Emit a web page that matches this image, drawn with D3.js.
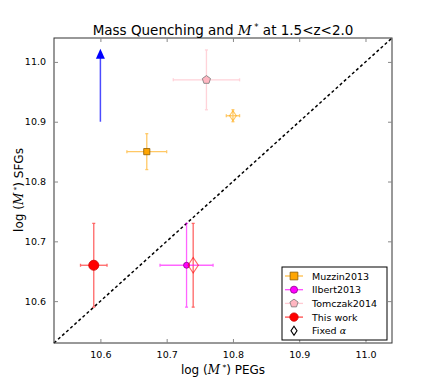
<!DOCTYPE html>
<html>
<head>
<meta charset="utf-8">
<script src="https://cdn.jsdelivr.net/npm/d3@7"></script>
<style>
  body { margin: 0; background: #fff; }
  text { font-family: "DejaVu Sans", sans-serif; fill: #000; }
</style>
</head>
<body>
<svg id="chart" width="436" height="382"></svg>
<script>
// data
const names = ["Muzzin2013", "Ilbert2013", "Tomczak2014", "This work"];
const xPEG = [10.67, 10.73, 10.76, 10.59];
const ySFG = [10.85, 10.66, 10.97, 10.66];
const xErr = [0.03, 0.04, 0.05, 0.02];
const yErr = [0.03, 0.07, 0.05, 0.07];
const colors = ["#ffa500", "#ff00ff", "#ffb6c1", "#ff0000"];

// fixed alpha points
const fixedX = [10.80, 10.74];
const fixedY = [10.91, 10.66];
const fixedXErr = [0.01, 0.0];
const fixedYErr = [0.01, 0.07];
const fixedColors = ["#ffa500", "#ff0000"];

// lower limit arrow
const arrowX = 10.6, arrowFrom = 10.9, arrowTo = 11.022;

const ticks = [10.6, 10.7, 10.8, 10.9, 11.0];
const domain = [10.53, 11.04];

const svg = d3.select("#chart");
const mLeft = 54, mRight = 392, mTop = 38, mBottom = 343;

const x = d3.scaleLinear().domain(domain).range([mLeft, mRight]);
const y = d3.scaleLinear().domain(domain).range([mBottom, mTop]);

// one-to-one line
svg.append("line")
    .attr("x1", x(domain[0])).attr("y1", y(domain[0]))
    .attr("x2", x(domain[1])).attr("y2", y(domain[1]))
    .attr("stroke", "#000").attr("stroke-width", 1.5)
    .attr("stroke-dasharray", "3,2.5");

// blue arrow
svg.append("line")
    .attr("x1", x(arrowX)).attr("x2", x(arrowX))
    .attr("y1", y(arrowFrom)).attr("y2", y(arrowTo) + 9)
    .attr("stroke", "#0000ff").attr("stroke-width", 1.5).attr("opacity", 0.7);
svg.append("path")
    .attr("d", `M${x(arrowX)},${y(arrowTo)} l-4.5,10 l9,0 z`)
    .attr("fill", "#0000ff");

function errorBars(cx, cy, ex, ey, col, op) {
    const g = svg.append("g").attr("stroke", col).attr("stroke-width", 1.3).attr("opacity", op);
    if (ex > 0) {
        g.append("line").attr("x1", x(cx - ex)).attr("x2", x(cx + ex)).attr("y1", y(cy)).attr("y2", y(cy));
        [cx - ex, cx + ex].forEach(v => g.append("line").attr("x1", x(v)).attr("x2", x(v)).attr("y1", y(cy) - 1.5).attr("y2", y(cy) + 1.5));
    }
    if (ey > 0) {
        g.append("line").attr("x1", x(cx)).attr("x2", x(cx)).attr("y1", y(cy - ey)).attr("y2", y(cy + ey));
        [cy - ey, cy + ey].forEach(v => g.append("line").attr("y1", y(v)).attr("y2", y(v)).attr("x1", x(cx) - 1.5).attr("x2", x(cx) + 1.5));
    }
}

fixedX.forEach((v, i) => errorBars(v, fixedY[i], fixedXErr[i], fixedYErr[i], fixedColors[i], 0.6));
names.forEach((n, i) => errorBars(xPEG[i], ySFG[i], xErr[i], yErr[i], colors[i], 0.6));

const sym = [d3.symbolSquare, d3.symbolCircle, null, d3.symbolCircle];
const sizes = [38, 28, 0, 80];
const legendSizes = [60, 40, 0, 55];
const edges = ["#8a5a00", "#8a008a", "#777", "#cc0000"];

function pentagon(r) {
    let pts = [];
    for (let k = 0; k < 5; k++) {
        const a = -Math.PI / 2 + k * 2 * Math.PI / 5;
        pts.push([r * Math.cos(a), r * Math.sin(a)]);
    }
    return "M" + pts.map(p => p.join(",")).join("L") + "Z";
}

function marker(g, i, cx, cy, sz) {
    const d = i == 2 ? pentagon(4.3) : d3.symbol(sym[i], sz[i])();
    g.append("path").attr("d", d)
        .attr("transform", `translate(${cx},${cy})`)
        .attr("fill", colors[i]).attr("stroke", edges[i]).attr("stroke-width", 0.8);
}

names.forEach((n, i) => marker(svg, i, x(xPEG[i]), y(ySFG[i]), sizes));

// fixed alpha: open diamonds
fixedX.forEach((v, i) => {
    svg.append("path").attr("d", d3.symbol(d3.symbolDiamond, i == 0 ? 30 : 70)())
        .attr("transform", `translate(${x(v)},${y(fixedY[i])}) scale(1.15,1)`)
        .attr("fill", "none").attr("stroke", fixedColors[i]).attr("stroke-width", 1).attr("opacity", 0.6);
});

// frame
svg.append("rect").attr("x", mLeft).attr("y", mTop).attr("width", mRight - mLeft).attr("height", mBottom - mTop)
    .attr("fill", "none").attr("stroke", "#333").attr("stroke-width", 1);

// axes with inward ticks
const xb = svg.append("g").attr("transform", `translate(0,${mBottom})`)
    .call(d3.axisBottom(x).tickValues(ticks).tickSizeInner(-4).tickSizeOuter(0).tickPadding(8).tickFormat(d3.format(".1f")));
const xt = svg.append("g").attr("transform", `translate(0,${mTop})`)
    .call(d3.axisTop(x).tickValues(ticks).tickSizeInner(-4).tickSizeOuter(0).tickFormat(""));
const yl = svg.append("g").attr("transform", `translate(${mLeft},0)`)
    .call(d3.axisLeft(y).tickValues(ticks).tickSizeInner(-4).tickSizeOuter(0).tickPadding(8).tickFormat(d3.format(".1f")));
const yr = svg.append("g").attr("transform", `translate(${mRight},0)`)
    .call(d3.axisRight(y).tickValues(ticks).tickSizeInner(-4).tickSizeOuter(0).tickFormat(""));
[xb, xt, yl, yr].forEach(a => {
    a.select(".domain").remove();
    a.selectAll(".tick line").attr("stroke", "#888");
    a.selectAll("text").attr("font-size", 9.5).attr("font-family", "DejaVu Sans, sans-serif");
});

// title and axis labels
const mstar = '(<tspan font-family="DejaVu Serif" font-style="italic">M</tspan><tspan dy="-4" font-size="7.5"> *</tspan><tspan dy="4">)</tspan>';
svg.append("text").attr("x", 223).attr("y", 35).attr("text-anchor", "middle").attr("font-size", 13.5)
    .html('Mass Quenching and <tspan font-family="DejaVu Serif" font-style="italic">M</tspan><tspan dy="-5" font-size="8.5"> *</tspan><tspan dy="5">  at 1.5&lt;z&lt;2.0</tspan>');
svg.append("text").attr("x", 223).attr("y", 374).attr("text-anchor", "middle").attr("font-size", 12)
    .html("log " + mstar + " PEGs");
svg.append("text").attr("transform", "translate(23,190) rotate(-90)").attr("text-anchor", "middle").attr("font-size", 12)
    .html("log " + mstar + " SFGs");

// legend
const lg = svg.append("g").attr("transform", "translate(282,267)");
lg.append("rect").attr("width", 105).attr("height", 73).attr("fill", "#fff").attr("stroke", "#000").attr("stroke-width", 1);
const labels = names.concat(["Fixed α"]);
labels.forEach((n, i) => {
    const yy = 9 + i * 13.7;
    if (i < 4) {
        lg.append("line").attr("x1", 3).attr("x2", 21).attr("y1", yy).attr("y2", yy)
            .attr("stroke", colors[i]).attr("stroke-width", 1.3).attr("opacity", 0.7);
        marker(lg, i, 12, yy, legendSizes);
    } else {
        lg.append("path").attr("d", d3.symbol(d3.symbolDiamond, 24)()).attr("transform", `translate(12,${yy}) scale(1.15,1)`)
            .attr("fill", "none").attr("stroke", "#000").attr("stroke-width", 1);
    }
    const t = lg.append("text").attr("x", 30).attr("y", yy + 3.5).attr("font-size", 9.5);
    if (i < 4) t.text(n);
    else t.html('Fixed <tspan font-family="DejaVu Serif" font-style="italic">α</tspan>');
});
</script>
</body>
</html>
